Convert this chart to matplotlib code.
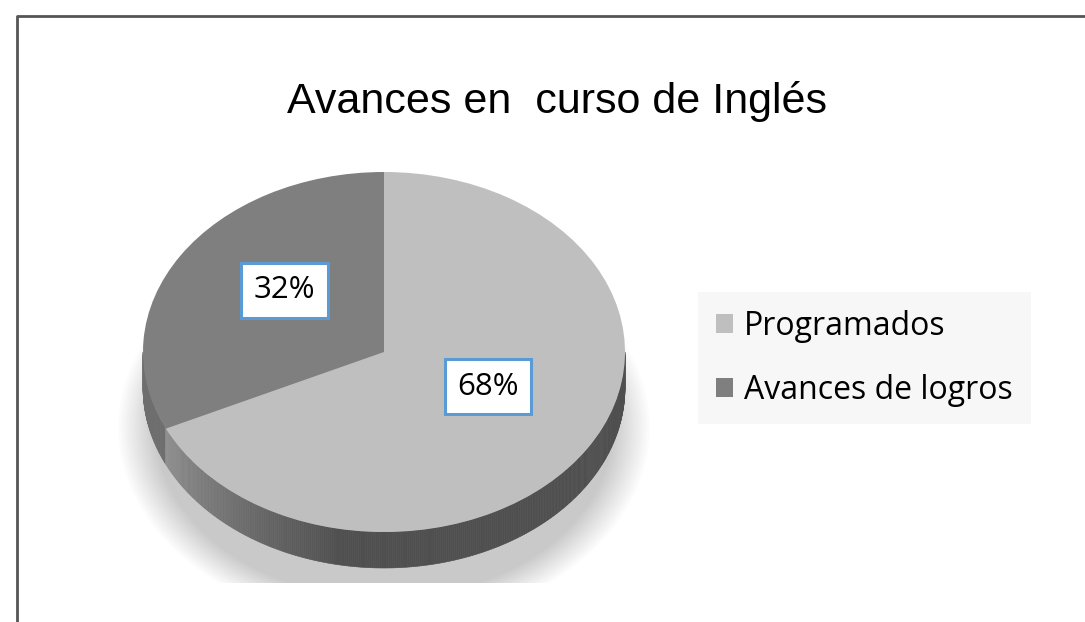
import numpy as np
import matplotlib
matplotlib.use("Agg")
import matplotlib.pyplot as plt
from matplotlib.patches import Patch, Ellipse, Polygon, Rectangle
from matplotlib.lines import Line2D

# chart data
labels = ["Programados", "Avances de logros"]
values = [68, 32]
colors = ["#bfbfbf", "#7f7f7f"]
title = "Avances en  curso de Inglés"

W, H = 1085, 622
fig = plt.figure(figsize=(W / 100, H / 100), dpi=100)

# outer frame (left and top edges visible in the original)
fig.add_artist(Line2D([16.5 / W, 16.5 / W, 1], [0, 1 - 15.5 / H, 1 - 15.5 / H],
                      transform=fig.transFigure, color="#555555", lw=2))

fig.text(557 / W, 1 - 101 / H, title, ha="center", va="center",
         fontsize=31, family="Liberation Sans")

# pie axes: unit circle stretched to an ellipse (a=241px, b=180px)
cx, cy, a, b = 384, 352, 241, 180
xr, yr = (-1.25, 1.25), (-1.45, 1.1)
left = cx + xr[0] * a
right = cx + xr[1] * a
top = cy - yr[1] * b
bottom = cy - yr[0] * b
ax = fig.add_axes([left / W, 1 - bottom / H, (right - left) / W, (bottom - top) / H])

depth = 0.2

# soft shadow under the pie, cut off flat at the bottom
clip = Rectangle((-1.3, -1.285), 2.6, 1.5, transform=ax.transData)
for k in range(18):
    s = 0.95 + 0.009 * k
    e = Ellipse((0, -0.42), 2 * s, 2 * s, color="black", alpha=0.011, lw=0, zorder=0)
    ax.add_patch(e)
    e.set_clip_path(clip)

# side wall of the cylinder, split at the wedge boundary
total = sum(values)
boundary = 90 - 360 * values[0] / total + 360  # end of first wedge (clockwise)


def side_color(th):
    if th < boundary:
        return (0.43, 0.43, 0.43)
    t = min(1.0, (th - boundary) / 55.0)
    v = 0.56 * (1 - t) + 0.31 * t
    return (v, v, v)


ths = np.linspace(180, 360, 361)
for t0, t1 in zip(ths[:-1], ths[1:]):
    r0, r1 = np.radians(t0), np.radians(t1)
    pts = [(np.cos(r0), np.sin(r0)), (np.cos(r1), np.sin(r1)),
           (np.cos(r1), np.sin(r1) - depth), (np.cos(r0), np.sin(r0) - depth)]
    ax.add_patch(Polygon(pts, closed=True, color=side_color((t0 + t1) / 2),
                         lw=0.4, zorder=1))

wedges, texts, autotexts = ax.pie(
    values, colors=colors, startangle=90, counterclock=False,
    autopct="%1.0f%%", pctdistance=0.5,
    wedgeprops=dict(linewidth=0, zorder=2),
    textprops=dict(fontsize=22.5, family="Open Sans", color="black"))

for t in autotexts:
    x, y = t.get_position()
    t.set_position((x + 0.01, y + 0.075))
    t.set_zorder(5)
    t.set_bbox(dict(boxstyle="square,pad=0.4", facecolor="white",
                    edgecolor="#5b9bd5", linewidth=2.2))

ax.set_aspect("auto")
ax.set_xlim(*xr)
ax.set_ylim(*yr)
ax.axis("off")

handles = [Patch(facecolor=c, edgecolor="none") for c in colors]
leg = fig.legend(handles, labels, loc="upper left",
                 bbox_to_anchor=(698 / W, 1 - 292 / H), bbox_transform=fig.transFigure,
                 frameon=True, fancybox=False, facecolor="#f7f7f7", edgecolor="none",
                 framealpha=1, borderaxespad=0, borderpad=0.55,
                 handlelength=0.55, handleheight=0.55, handletextpad=0.35,
                 labelspacing=0.97, prop=dict(family="Open Sans", size=23))

fig.savefig("out.png", dpi=100, facecolor="white")
